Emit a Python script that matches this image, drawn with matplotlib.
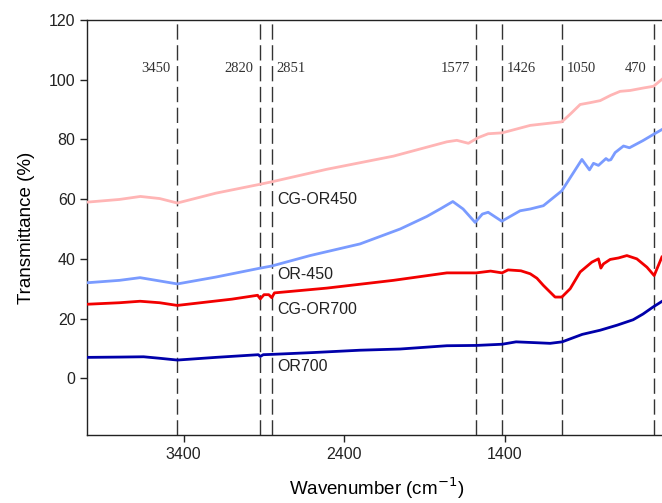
import matplotlib
matplotlib.use('Agg')
import matplotlib.pyplot as plt

plt.rcParams.update({
    'font.family': 'Liberation Sans',
    'font.size': 11.5,
})

# ── spectra (wavenumber, transmittance) ──────────────────────────────────
wn_cg450 = [4000, 3800, 3670, 3550, 3440, 3200, 2923, 2852, 2509, 2094, 1761,
            1699, 1627, 1566, 1504, 1417, 1242, 1160, 1045, 990, 931, 870, 806,
            740, 682, 619, 540, 474, 420]
t_cg450 = [59.0, 59.9, 60.9, 60.2, 58.7, 62.0, 65.0, 65.8, 70.0, 74.4, 79.2,
           79.7, 78.7, 80.6, 81.9, 82.2, 84.7, 85.2, 85.9, 88.6, 91.7, 92.3,
           93.0, 94.8, 96.1, 96.4, 97.2, 97.8, 100.2]

wn_or450 = [4000, 3800, 3672, 3550, 3440, 3200, 2923, 2852, 2613, 2302, 2052,
            1886, 1800, 1724, 1660, 1585, 1540, 1504, 1419, 1305, 1242, 1160,
            1045, 920, 873, 848, 817, 770, 755, 740, 713, 661, 624, 540, 474,
            422]
t_or450 = [32.0, 32.8, 33.7, 32.6, 31.6, 33.9, 36.9, 37.6, 41.1, 45.0, 50.0,
           54.2, 56.8, 59.2, 56.7, 52.2, 55.0, 55.6, 52.6, 56.1, 56.7, 57.8,
           62.8, 73.3, 69.8, 72.0, 71.3, 73.6, 73.0, 73.2, 75.6, 77.8, 77.2,
           79.6, 81.7, 83.3]

wn_cg700 = [4000, 3800, 3672, 3550, 3440, 3100, 2940, 2923, 2900, 2870, 2852,
            2835, 2509, 2094, 1761, 1578, 1489, 1417, 1380, 1300, 1242, 1200,
            1160, 1087, 1045, 993, 931, 858, 817, 802, 786, 744, 692, 640,
            578, 515, 470, 422]
t_cg700 = [24.8, 25.3, 25.8, 25.3, 24.4, 26.5, 27.8, 26.6, 28.0, 28.0, 27.0,
           28.6, 30.2, 32.8, 35.3, 35.3, 35.9, 35.3, 36.3, 36.0, 35.0, 33.5,
           31.1, 27.2, 27.2, 30.0, 35.6, 38.9, 40.0, 36.9, 38.3, 39.8, 40.3,
           41.1, 40.0, 37.2, 34.4, 40.6]

wn_or700 = [4000, 3800, 3650, 3550, 3440, 3200, 2935, 2923, 2905, 2852, 2600,
            2302, 2052, 1761, 1578, 1417, 1330, 1200, 1118, 1043, 918, 806,
            700, 601, 540, 476, 420]
t_or700 = [7.0, 7.1, 7.2, 6.7, 6.1, 7.0, 7.9, 7.3, 7.9, 8.0, 8.6, 9.4, 9.8,
           10.9, 11.0, 11.4, 12.2, 11.9, 11.7, 12.2, 14.7, 16.1, 17.8, 19.6,
           21.5, 23.9, 25.8]

series_names = ['CG-OR450', 'OR-450', 'CG-OR700', 'OR700']
series_colors = ['#FFB5B5', '#7A9BFF', '#F20000', '#0000AA']
label_y = [60, 34.7, 23, 3.9]

# marked bands: line position and the text printed beside it
band_pos = [3440, 2923, 2852, 1577, 1417, 1043, 474]
band_text = ['3450', '2820', '2851', '1577', '1426', '1050', '470']
band_side = ['left', 'left', 'right', 'left', 'right', 'right', 'left']

fig = plt.figure(figsize=(6.62, 5.03), dpi=100)
ax = fig.add_axes([87.4 / 662, 1 - 435 / 503, 578 / 662, 415 / 503])

spectra = [(wn_cg450, t_cg450), (wn_or450, t_or450),
           (wn_cg700, t_cg700), (wn_or700, t_or700)]
for (wn, t), c in zip(spectra, series_colors):
    ax.plot(wn, t, color=c, lw=2.0, solid_joinstyle='round', zorder=3)

for name, y in zip(series_names, label_y):
    ax.text(2815, y, name, ha='left', va='center', fontsize=11.5,
            color='#222222', zorder=4)

for pos, txt, side in zip(band_pos, band_text, band_side):
    ax.axvline(pos, color='#333333', lw=1.0, dashes=(11, 4), zorder=2)
    dx = -5 if side == 'left' else 3
    ax.annotate(txt, xy=(pos, 103.7), xytext=(dx, 0), textcoords='offset points',
                ha='right' if side == 'left' else 'left', va='center',
                family='Liberation Serif', fontsize=10.5, color='#333333')

ax.set_xlim(4000, 400)
ax.set_ylim(-19, 120)
ax.set_xticks([3400, 2400, 1400])
ax.set_yticks([0, 20, 40, 60, 80, 100, 120])
ax.tick_params(direction='out', length=5, width=1, colors='#222222',
               labelsize=11.5)
for s in ax.spines.values():
    s.set_color('#222222')
    s.set_linewidth(1.0)

ax.set_xlabel('Wavenumber (cm$^{-1}$)', fontsize=13.5, labelpad=10)
ax.set_ylabel('Transmittance (%)', fontsize=13.5, labelpad=10)

fig.savefig('out.png', dpi=100)
